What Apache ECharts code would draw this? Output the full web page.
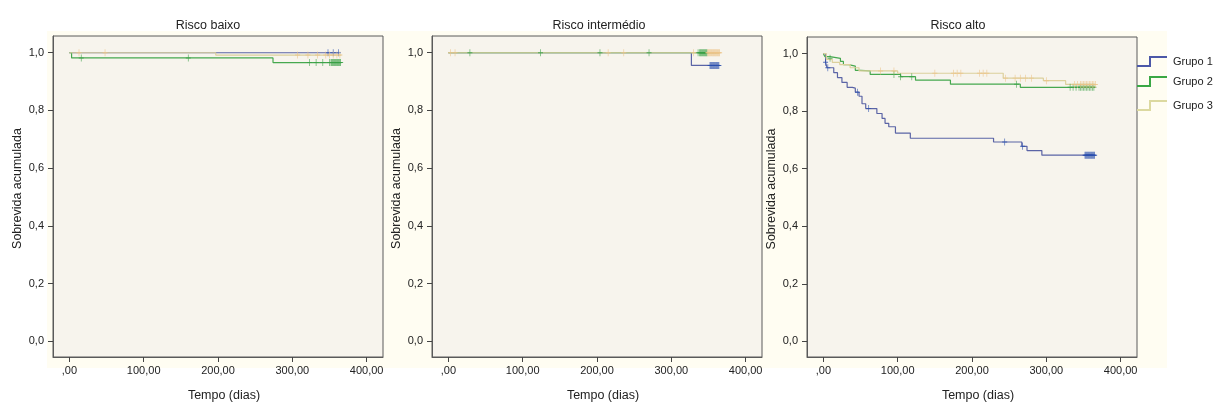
<!DOCTYPE html>
<html>
<head>
<meta charset="utf-8">
<script src="https://cdn.jsdelivr.net/npm/echarts@6/dist/echarts.min.js"></script>
<style>html,body{margin:0;padding:0;background:#fff;}#c{width:1214px;height:407px;}</style>
</head>
<body>
<div id="c"></div>
<script>
// ---- tick labels ----
const xTicks = [0, 100, 200, 300, 400];
const yTicks = [0, 0.2, 0.4, 0.6, 0.8, 1.0];
const panelTitles = ['Risco baixo', 'Risco intermédio', 'Risco alto'];
const groupNames = ['Grupo 1', 'Grupo 2', 'Grupo 3'];

// ---- Risco baixo ----
const baixoG1T = [0, 362];            const baixoG1S = [1, 1];
const baixoG2T = [0, 3, 274, 366];    const baixoG2S = [1, 0.982, 0.966, 0.966];
const baixoG3T = [0, 197, 366];       const baixoG3S = [1, 0.992, 0.992];
const baixoG1C = [348, 355, 362];
const baixoG2C = [16, 160, 323, 332, 341, 350, 352, 353, 354, 355, 356, 357, 358, 359, 360, 361, 362, 363, 364, 365];
const baixoG3C = [13, 48, 307, 321, 334, 345, 350, 355, 360, 364];

// ---- Risco intermédio ----
const interG1T = [0, 327, 365];       const interG1S = [1, 0.956, 0.956];
const interG2T = [0, 365];            const interG2S = [1, 1];
const interG3T = [0, 365];            const interG3S = [1, 1];
const interG1C = [352, 353, 354, 355, 356, 357, 358, 359, 360, 361, 362, 363, 364];
const interG2C = [29, 124, 204, 270, 336, 338, 339, 340, 341, 342, 343, 344, 345, 346, 347, 348];
const interG3C = [3, 9, 215, 236, 330, 349, 350, 351, 352, 353, 354, 355, 356, 357, 358, 359, 360, 361, 362, 363, 364, 365];

// ---- Risco alto ----
const altoG1T = [0, 3, 5, 14, 19, 25, 32, 39, 43, 48, 52, 57, 72, 79, 83, 88, 97, 117, 229, 267, 274, 294, 366];
const altoG1S = [1, 0.97, 0.951, 0.934, 0.917, 0.9, 0.883, 0.88, 0.866, 0.852, 0.826, 0.809, 0.792, 0.775, 0.758, 0.746, 0.724, 0.706, 0.693, 0.678, 0.663, 0.647, 0.647];
const altoG2T = [0, 2, 9, 23, 27, 34, 43, 50, 63, 104, 124, 171, 265, 366];
const altoG2S = [1, 0.99, 0.984, 0.973, 0.962, 0.957, 0.942, 0.94, 0.928, 0.92, 0.908, 0.894, 0.883, 0.883];
const altoG3T = [0, 4, 12, 22, 36, 48, 100, 242, 296, 326, 366];
const altoG3S = [1, 0.98, 0.97, 0.962, 0.951, 0.94, 0.932, 0.915, 0.906, 0.893, 0.893];
const altoG1C = [3, 6, 46, 61, 244, 268, 352, 353, 354, 355, 356, 357, 358, 359, 360, 361, 362, 363, 364, 365];
const altoG2C = [9, 95, 104, 119, 260, 332, 336, 340, 344, 346, 348, 350, 352, 354, 356, 358, 360, 362, 364];
const altoG3C = [77, 95, 150, 175, 180, 185, 210, 215, 220, 245, 258, 265, 272, 280, 300, 338, 342, 346, 348, 350, 352, 354, 356, 358, 360, 362, 364, 366];

const panels = [
  [[baixoG1T, baixoG1S, baixoG1C], [baixoG2T, baixoG2S, baixoG2C], [baixoG3T, baixoG3S, baixoG3C]],
  [[interG1T, interG1S, interG1C], [interG2T, interG2S, interG2C], [interG3T, interG3S, interG3C]],
  [[altoG1T, altoG1S, altoG1C], [altoG2T, altoG2S, altoG2C], [altoG3T, altoG3S, altoG3C]]
];

const lineColors = ['#5b64a6', '#46a84f', '#dcd09c'];
const markColors = ['#2a4fae', '#3aa046', '#ecc489'];
const legendColors = ['#4c58a8', '#3aa845', '#dcd9a0'];

function stepAt(ts, ss, t) {
  let v = ss[0];
  for (let i = 0; i < ts.length; i++) { if (ts[i] <= t) v = ss[i]; }
  return v;
}

const FONT = 'Liberation Sans, Arial, sans-serif';
const gridPos = [
  {left: 53, top: 36, width: 330, height: 326},
  {left: 432, top: 36, width: 330, height: 326},
  {left: 807, top: 37, width: 330, height: 326}
];
const titleX = [203, 594, 953];

const grids = [], xAxes = [], yAxes = [], series = [], titles = [];
gridPos.forEach((g, p) => {
  grids.push(Object.assign({show: true, backgroundColor: '#f7f4ed', borderColor: '#5a5a5a', borderWidth: 1}, g));
  titles.push({text: panelTitles[p], left: titleX[p], top: 14, textAlign: 'center',
    textStyle: {fontFamily: FONT, fontSize: 12.5, fontWeight: 'normal', color: '#222'}});
  xAxes.push({
    type: 'value', gridIndex: p, min: -22, max: 422, position: 'bottom',
    name: 'Tempo (dias)', nameLocation: 'middle', nameGap: 32,
    nameTextStyle: {fontFamily: FONT, fontSize: 12.5, color: '#222', padding: [0, 0, 0, 12]},
    axisLine: {show: true, onZero: false, lineStyle: {color: '#5a5a5a'}},
    axisTick: {show: true, customValues: xTicks, length: 5, lineStyle: {color: '#444'}},
    axisLabel: {show: true, customValues: xTicks, fontFamily: FONT, fontSize: 11, color: '#222', margin: 8,
      formatter: v => v === 0 ? ',00' : v.toFixed(2).replace('.', ',')},
    splitLine: {show: false}
  });
  yAxes.push({
    type: 'value', gridIndex: p, min: -0.0546, max: 1.058, position: 'left',
    name: 'Sobrevida acumulada', nameLocation: 'middle', nameGap: 29, nameRotate: 90,
    nameTextStyle: {fontFamily: FONT, fontSize: 12.5, color: '#222', padding: [0, 0, 0, 16]},
    axisLine: {show: true, onZero: false, lineStyle: {color: '#5a5a5a'}},
    axisTick: {show: true, customValues: yTicks, length: 5, lineStyle: {color: '#444'}},
    axisLabel: {show: true, customValues: yTicks, fontFamily: FONT, fontSize: 11, color: '#222', margin: 9,
      formatter: v => v.toFixed(1).replace('.', ',')},
    splitLine: {show: false}
  });
  panels[p].forEach((grp, k) => {
    const [ts, ss, cs] = grp;
    series.push({
      name: groupNames[k], type: 'line', step: 'end', xAxisIndex: p, yAxisIndex: p,
      data: ts.map((t, i) => [t, ss[i]]), symbol: 'none', z: 2 + k,
      lineStyle: {color: lineColors[k], width: 1.2}, itemStyle: {color: legendColors[k]}
    });
    series.push({
      name: groupNames[k] + ' censurado', type: 'scatter', xAxisIndex: p, yAxisIndex: p,
      data: cs.map(t => [t, stepAt(ts, ss, t)]), z: 5 + k,
      symbol: 'path://M-0.7,-5H0.7V-0.7H5V0.7H0.7V5H-0.7V0.7H-5V-0.7H-0.7Z', symbolSize: [5, 7],
      itemStyle: {color: markColors[k]}
    });
  });
});

const iconStep = 'path://M0,16H12V7H30V9H14V18H0Z';
const legendTops = [56, 76, 100];
const legends = groupNames.map((n, k) => ({
  data: [{name: n, icon: iconStep, itemStyle: {color: legendColors[k]}}],
  left: 1137, top: legendTops[k], orient: 'vertical', padding: 0,
  itemWidth: 30, itemHeight: 18, selectedMode: false,
  textStyle: {fontFamily: FONT, fontSize: 11, color: '#222', padding: [0, 0, 0, 1]}
}));

const chart = echarts.init(document.getElementById('c'), null, {renderer: 'canvas'});
chart.setOption({
  animation: false,
  backgroundColor: '#ffffff',
  graphic: [{type: 'rect', shape: {x: 47, y: 31, width: 1120, height: 337}, style: {fill: '#fffdf2'}, z: -10, silent: true}],
  title: titles,
  legend: legends,
  grid: grids,
  xAxis: xAxes,
  yAxis: yAxes,
  series: series
});
</script>
</body>
</html>
